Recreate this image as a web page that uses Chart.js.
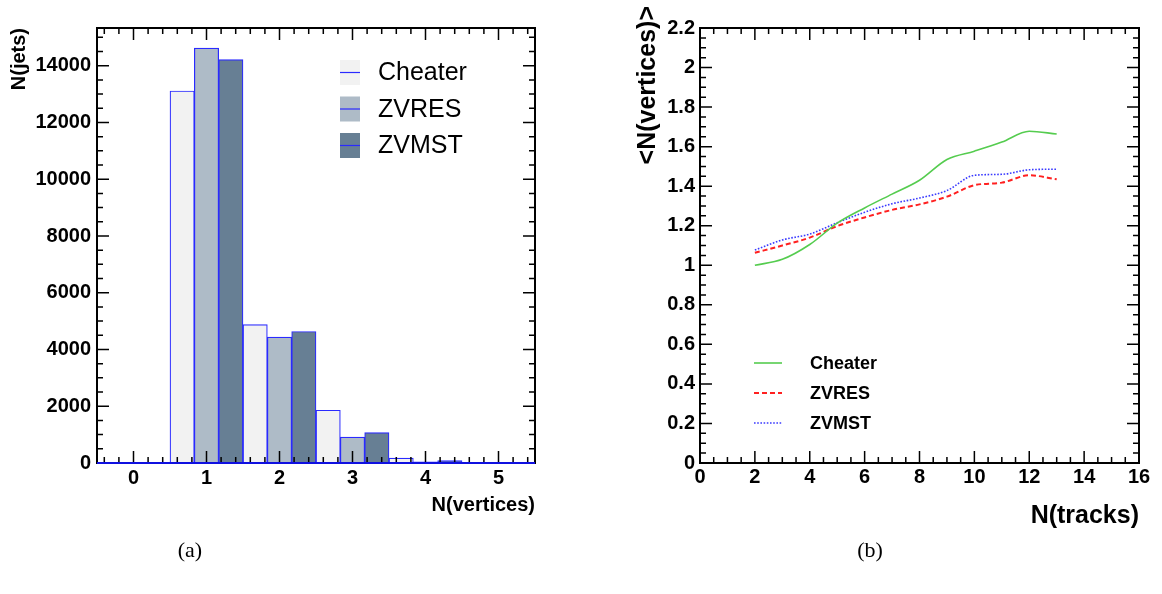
<!DOCTYPE html>
<html>
<head>
<meta charset="utf-8">
<script src="https://cdn.jsdelivr.net/npm/chart.js@4.4.1/dist/chart.umd.min.js"></script>
<style>
  body { margin: 0; background: #fff; }
  #wrap { position: relative; width: 1162px; height: 594px; }
  #jetsChart { position: absolute; left: 0; top: 0; }
  #meanChart { position: absolute; left: 580px; top: 0; }
  .caption { position: absolute; top: 537px; width: 60px; text-align: center; line-height: 26px;
             font: 22px "Liberation Serif", "Times New Roman", serif; }
</style>
</head>
<body>
<div id="wrap">
  <canvas id="jetsChart" width="580" height="594"></canvas>
  <canvas id="meanChart" width="582" height="594"></canvas>
  <div class="caption" style="left:160px">(a)</div>
  <div class="caption" style="left:840px">(b)</div>
</div>
<script>
// (a) number of jets per number of found vertices
const vertexLabels = ["0", "1", "2", "3", "4", "5"];
const cheaterJets = [0, 13110, 4880, 1860, 170, 20];
const zvresJets = [0, 14620, 4440, 910, 45, 10];
const zvmstJets = [0, 14215, 4635, 1070, 85, 10];
const jetTicks = [0, 2000, 4000, 6000, 8000, 10000, 12000, 14000];

// (b) mean number of vertices vs number of tracks
const trackCounts = [2, 3, 4, 5, 6, 7, 8, 9, 10, 11, 12, 13];
const cheaterMean = [1.00, 1.03, 1.105, 1.213, 1.29, 1.36, 1.43, 1.535, 1.577, 1.623, 1.678, 1.664];
const zvresMean = [1.063, 1.10, 1.14, 1.198, 1.242, 1.28, 1.308, 1.347, 1.405, 1.418, 1.455, 1.435];
const zvmstMean = [1.077, 1.128, 1.158, 1.215, 1.268, 1.311, 1.34, 1.378, 1.455, 1.46, 1.483, 1.486];
const trackTicks = [0, 2, 4, 6, 8, 10, 12, 14, 16];
const meanTicks = [0, 0.2, 0.4, 0.6, 0.8, 1, 1.2, 1.4, 1.6, 1.8, 2, 2.2];

Chart.defaults.font.family = "'Liberation Sans', Arial, sans-serif";
Chart.defaults.color = "#000";

const FONT = "'Liberation Sans', Arial, sans-serif";

// ROOT style frame: box around the plot, ticks pointing inwards on all four sides
const rootFrame = {
    id: "rootFrame",
    afterDraw(chart, args, opts) {
        const {ctx, chartArea: a} = chart;
        const xs = chart.scales.x, ys = chart.scales.y;

        const minorValues = (s, step) => {
            const lo = s._startValue, hi = s._startValue + s._valueRange;
            const out = [];
            for (let i = Math.ceil(lo / step - 1e-6); i * step <= hi + 1e-6; i++) out.push(i * step);
            return out;
        };
        const isMajor = (s, v) => s.ticks.some(t => Math.abs(t.value - v) < 1e-6);

        ctx.save();
        ctx.strokeStyle = "#000";
        ctx.lineWidth = 1.5;
        ctx.beginPath();
        minorValues(xs, opts.xMinor).forEach(v => {
            const px = xs.getPixelForValue(v);
            const len = isMajor(xs, v) ? 12 : 6;
            ctx.moveTo(px, a.bottom); ctx.lineTo(px, a.bottom - len);
            ctx.moveTo(px, a.top); ctx.lineTo(px, a.top + len);
        });
        minorValues(ys, opts.yMinor).forEach(v => {
            const py = ys.getPixelForValue(v);
            const len = isMajor(ys, v) ? 12 : 6;
            ctx.moveTo(a.left, py); ctx.lineTo(a.left + len, py);
            ctx.moveTo(a.right, py); ctx.lineTo(a.right - len, py);
        });
        ctx.stroke();

        ctx.lineWidth = 2;
        ctx.strokeRect(a.left, a.top, a.right - a.left, a.bottom - a.top);

        if (opts.baseColor) {
            const py = ys.getPixelForValue(0);
            ctx.strokeStyle = opts.baseColor;
            ctx.beginPath();
            ctx.moveTo(a.left, py); ctx.lineTo(a.right, py);
            ctx.stroke();
        }

        // y title that sticks out above the frame (ROOT places it there)
        if (opts.yTitle) {
            ctx.fillStyle = "#000";
            ctx.font = opts.yTitle.font;
            ctx.textAlign = "right";
            ctx.textBaseline = "middle";
            ctx.translate(opts.yTitle.x, opts.yTitle.top);
            ctx.rotate(-Math.PI / 2);
            ctx.fillText(opts.yTitle.text, 0, 0);
        }
        ctx.restore();
    }
};

// legend drawn inside the frame like the ROOT TLegend
const sampleLegend = {
    id: "sampleLegend",
    afterDraw(chart, args, opts) {
        const ctx = chart.ctx;
        ctx.save();
        ctx.font = opts.font;
        ctx.textBaseline = "middle";
        chart.data.datasets.forEach((ds, i) => {
            const cy = opts.y + i * opts.gap;
            if (opts.kind === "box") {
                ctx.fillStyle = ds.backgroundColor;
                ctx.fillRect(opts.x, cy - 12.5, 20, 25);
                ctx.strokeStyle = ds.borderColor;
                ctx.lineWidth = 1.2;
                ctx.beginPath();
                ctx.moveTo(opts.x, cy); ctx.lineTo(opts.x + 20, cy);
                ctx.stroke();
            } else {
                ctx.strokeStyle = ds.borderColor;
                ctx.lineWidth = ds.borderWidth;
                ctx.setLineDash(ds.borderDash || []);
                ctx.beginPath();
                ctx.moveTo(opts.x, cy); ctx.lineTo(opts.x + 28, cy);
                ctx.stroke();
                ctx.setLineDash([]);
            }
            ctx.fillStyle = "#000";
            ctx.fillText(ds.label, opts.textX, cy + 1);
        });
        ctx.restore();
    }
};

const barBorder = "#2a2aff";
const tickFont = {size: 20, weight: "bold"};

new Chart(document.getElementById("jetsChart"), {
    type: "bar",
    data: {
        labels: vertexLabels,
        datasets: [
            {label: "Cheater", data: cheaterJets, backgroundColor: "#f2f2f2", borderColor: barBorder, borderWidth: 1.2},
            {label: "ZVRES", data: zvresJets, backgroundColor: "#aebbc7", borderColor: barBorder, borderWidth: 1.2},
            {label: "ZVMST", data: zvmstJets, backgroundColor: "#677f94", borderColor: barBorder, borderWidth: 1.2}
        ]
    },
    plugins: [rootFrame, sampleLegend],
    options: {
        responsive: false,
        animation: false,
        devicePixelRatio: 1,
        layout: {padding: {top: 28, right: 45, left: 0, bottom: 0}},
        datasets: {bar: {barPercentage: 1, categoryPercentage: 1}},
        plugins: {
            legend: {display: false},
            tooltip: {enabled: false},
            rootFrame: {xMinor: 0.2, yMinor: 500, baseColor: "#1010e0"},
            sampleLegend: {kind: "box", x: 340, y: 72.5, gap: 36.5, textX: 378, font: "25px " + FONT}
        },
        scales: {
            x: {
                type: "category",
                offset: true,
                grid: {display: false, drawTicks: false},
                border: {display: false},
                ticks: {font: tickFont, padding: 3, maxRotation: 0},
                title: {display: true, text: "N(vertices)", align: "end", font: {size: 20, weight: "bold"}, padding: {top: 0, bottom: 77}},
                afterFit: s => { s.height = 131; }
            },
            y: {
                min: 0,
                max: 15330,
                grid: {display: false, drawTicks: false},
                border: {display: false},
                afterBuildTicks: s => { s.ticks = jetTicks.map(v => ({value: v})); },
                ticks: {font: tickFont, padding: 6, callback: v => String(v)},
                title: {display: true, text: "N(jets)", align: "end", font: {size: 20, weight: "bold"}, padding: {top: 7}},
                afterFit: s => { s.width = 97; }
            }
        }
    }
});

const toPoints = ys => trackCounts.map((x, i) => ({x: x, y: ys[i]}));

new Chart(document.getElementById("meanChart"), {
    type: "line",
    data: {
        datasets: [
            {label: "Cheater", data: toPoints(cheaterMean), borderColor: "#55cc4f", borderWidth: 1.6},
            {label: "ZVRES", data: toPoints(zvresMean), borderColor: "#ff2020", borderWidth: 2, borderDash: [5, 3]},
            {label: "ZVMST", data: toPoints(zvmstMean), borderColor: "#3a3aff", borderWidth: 1.6, borderDash: [1.6, 1.6]}
        ]
    },
    plugins: [rootFrame, sampleLegend],
    options: {
        responsive: false,
        animation: false,
        devicePixelRatio: 1,
        layout: {padding: {top: 28, right: 23, left: 0, bottom: 0}},
        elements: {
            point: {radius: 0},
            line: {cubicInterpolationMode: "monotone", fill: false}
        },
        plugins: {
            legend: {display: false},
            tooltip: {enabled: false},
            rootFrame: {
                xMinor: 0.5, yMinor: 0.05,
                yTitle: {text: "<N(vertices)>", x: 68, top: 6, font: "bold 25px " + FONT}
            },
            sampleLegend: {kind: "line", x: 174, y: 363, gap: 30, textX: 230, font: "bold 18px " + FONT}
        },
        scales: {
            x: {
                type: "linear",
                min: 0,
                max: 16,
                grid: {display: false, drawTicks: false},
                border: {display: false},
                afterBuildTicks: s => { s.ticks = trackTicks.map(v => ({value: v})); },
                ticks: {font: tickFont, padding: 2, callback: v => String(v)},
                title: {display: true, text: "N(tracks)", align: "end", font: {size: 25, weight: "bold"}, padding: {top: 0, bottom: 63}},
                afterFit: s => { s.height = 131; }
            },
            y: {
                min: 0,
                max: 2.2,
                grid: {display: false, drawTicks: false},
                border: {display: false},
                afterBuildTicks: s => { s.ticks = meanTicks.map(v => ({value: v})); },
                ticks: {font: tickFont, padding: 5, callback: v => String(Math.round(v * 10) / 10)},
                afterFit: s => { s.width = 120; }
            }
        }
    }
});
</script>
</body>
</html>
